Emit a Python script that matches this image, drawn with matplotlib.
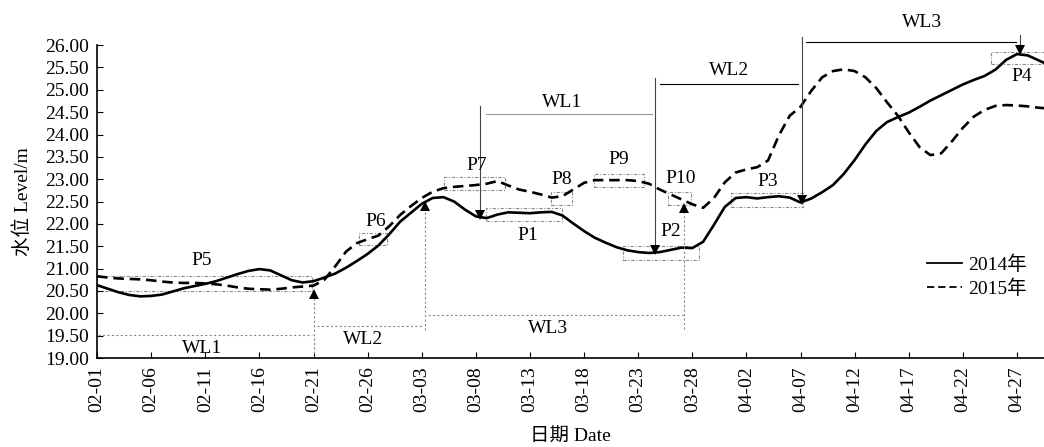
import numpy as np
import pandas as pd
import matplotlib
matplotlib.use('Agg')
import matplotlib.pyplot as plt

plt.rcParams['font.family'] = ['Liberation Serif', 'Noto Sans CJK SC']
plt.rcParams['font.size'] = 14

# daily dates 02-01 .. 04-30
dates = pd.date_range('2015-02-01', '2015-04-30').strftime('%m-%d').tolist()

# water level (m), one value per day
level_2014 = [20.63, 20.55, 20.47, 20.41, 20.38, 20.39, 20.42, 20.49, 20.56, 20.61,
              20.66, 20.72, 20.80, 20.88, 20.95, 20.99, 20.96, 20.85, 20.74, 20.69,
              20.72, 20.80, 20.89, 21.02, 21.17, 21.33, 21.52, 21.77, 22.05, 22.25,
              22.45, 22.58, 22.60, 22.50, 22.32, 22.17, 22.13, 22.21, 22.26, 22.25,
              22.24, 22.26, 22.27, 22.19, 22.01, 21.84, 21.69, 21.58, 21.48, 21.41,
              21.37, 21.35, 21.37, 21.42, 21.47, 21.46, 21.60, 21.98, 22.38, 22.58,
              22.60, 22.57, 22.60, 22.62, 22.59, 22.48, 22.57, 22.71, 22.87, 23.12,
              23.43, 23.78, 24.08, 24.28, 24.39, 24.49, 24.62, 24.76, 24.88, 25.00,
              25.12, 25.22, 25.31, 25.45, 25.67, 25.80, 25.77, 25.66, 25.55]
level_2015 = [20.83, 20.80, 20.78, 20.77, 20.76, 20.74, 20.71, 20.69, 20.68, 20.68,
              20.67, 20.65, 20.62, 20.58, 20.55, 20.54, 20.53, 20.55, 20.58, 20.60,
              20.62, 20.75, 21.05, 21.38, 21.57, 21.66, 21.74, 21.95, 22.20, 22.40,
              22.58, 22.72, 22.80, 22.83, 22.85, 22.87, 22.90, 22.96, 22.86, 22.77,
              22.72, 22.66, 22.59, 22.62, 22.77, 22.92, 22.98, 22.98, 22.98, 22.98,
              22.96, 22.90, 22.77, 22.66, 22.55, 22.44, 22.36, 22.58, 22.93, 23.15,
              23.22, 23.27, 23.42, 23.98, 24.42, 24.62, 24.98, 25.28, 25.42, 25.46,
              25.42, 25.28, 25.04, 24.72, 24.42, 24.05, 23.72, 23.54, 23.58, 23.85,
              24.15, 24.40, 24.55, 24.64, 24.66, 24.65, 24.63, 24.60, 24.58]

days = np.arange(len(dates))

fig = plt.figure(figsize=(10.44, 4.47), dpi=100)
ax = fig.add_axes([0.093, 0.199, 0.907, 0.70])

ax.plot(days, level_2014, color='black', lw=1.9, label='2014年',
        solid_joinstyle='round')
ax.plot(days, level_2015, color='black', lw=1.9, ls=(0, (4, 2.2)), label='2015年',
        dash_joinstyle='round')

ax.set_xlim(0, 87.5)
ax.set_ylim(19, 26)
ax.set_xticks(days[::5])
ax.set_xticklabels(dates[::5], rotation=90)
ax.set_yticks(np.arange(19, 26.01, 0.5))
ax.yaxis.set_major_formatter(matplotlib.ticker.FormatStrFormatter('%.2f'))
ax.tick_params(direction='in', length=4, width=0.8, labelsize=14, pad=6)
ax.spines['top'].set_visible(False)
ax.spines['right'].set_visible(False)
ax.spines['left'].set_linewidth(1.2)
ax.spines['bottom'].set_linewidth(1.2)
ax.set_ylabel('水位 Level/m', fontsize=14, labelpad=9)
ax.set_xlabel('日期 Date', fontsize=14, labelpad=11)

gray = '#8a8a8a'

# dash-dot boxes: (x0, x1, y0, y1, label, label_x, label_y)
boxes = [
    (0.0, 19.9, 20.50, 20.84, 'P5', 9.7, 21.19),
    (24.2, 26.8, 21.53, 21.80, 'P6', 25.7, 22.05),
    (32.1, 37.7, 22.76, 23.05, 'P7', 35.1, 23.30),
    (35.9, 43.0, 22.06, 22.36, 'P1', 39.8, 21.75),
    (41.9, 43.9, 22.42, 22.72, 'P8', 42.9, 23.00),
    (45.9, 50.5, 22.83, 23.12, 'P9', 48.2, 23.44),
    (52.8, 54.9, 22.42, 22.71, 'P10', 53.9, 23.02),
    (48.6, 55.6, 21.19, 21.51, 'P2', 53.0, 21.83),
    (58.6, 65.2, 22.38, 22.70, 'P3', 62.0, 22.95),
    (82.6, 87.6, 25.57, 25.85, 'P4', 85.4, 25.29),
]
for x0, x1, y0, y1, lab, tx, ty in boxes:
    ax.plot([x0, x1, x1, x0, x0], [y0, y0, y1, y1, y0], color=gray, lw=0.8,
            ls=(0, (3, 1.5, 1, 1.5)), clip_on=False, zorder=1)
    ax.text(tx, ty, lab, ha='center', va='center', fontsize=14)

# lower dotted periods with upward arrows
lower = [(0.1, 19.9, 19.51, 'WL1', 9.7, 19.22),
         (20.3, 30.1, 19.72, 'WL2', 24.6, 19.42),
         (30.6, 54.1, 19.96, 'WL3', 41.7, 19.67)]
for x0, x1, y, lab, tx, ty in lower:
    ax.plot([x0, x1], [y, y], color=gray, lw=0.8, ls=(0, (2, 2)))
    ax.text(tx, ty, lab, ha='center', va='center', fontsize=14)

up_arrows = [(20.0, 19.0, 20.50), (30.3, 19.63, 22.47), (54.2, 19.65, 22.42)]
for x, y0, y1 in up_arrows:
    ax.plot([x, x], [y0, y1 - 0.08], color=gray, lw=0.8, ls=(0, (2, 2)))
    ax.plot(x, y1 - 0.07, marker='^', color='black', ms=7, mew=0)

# upper solid periods with downward arrows
upper = [(35.9, 51.3, 24.45, 'WL1', 43.0, 24.72, '#999999'),
         (52.0, 64.8, 25.12, 'WL2', 58.4, 25.44, 'black'),
         (65.5, 84.9, 26.06, 'WL3', 76.2, 26.50, 'black')]
for x0, x1, y, lab, tx, ty, c in upper:
    ax.plot([x0, x1], [y, y], color=c, lw=0.8, clip_on=False)
    ax.text(tx, ty, lab, ha='center', va='center', fontsize=14)

down_arrows = [(35.4, 24.64, 22.13), (51.6, 25.26, 21.35),
               (65.1, 26.19, 22.47), (85.3, 26.23, 25.82)]
for x, y0, y1 in down_arrows:
    ax.plot([x, x], [y0, y1 + 0.08], color='#444444', lw=0.8, clip_on=False)
    ax.plot(x, y1 + 0.07, marker='v', color='black', ms=7, mew=0, clip_on=False)

leg = ax.legend(loc='upper left', bbox_to_anchor=(0.866, 0.36), frameon=False,
                fontsize=14, handlelength=1.8, handletextpad=0.3,
                labelspacing=0.3, borderpad=0)
for h in leg.get_lines():
    h.set_linewidth(1.3)

fig.savefig('out.png', dpi=100)
